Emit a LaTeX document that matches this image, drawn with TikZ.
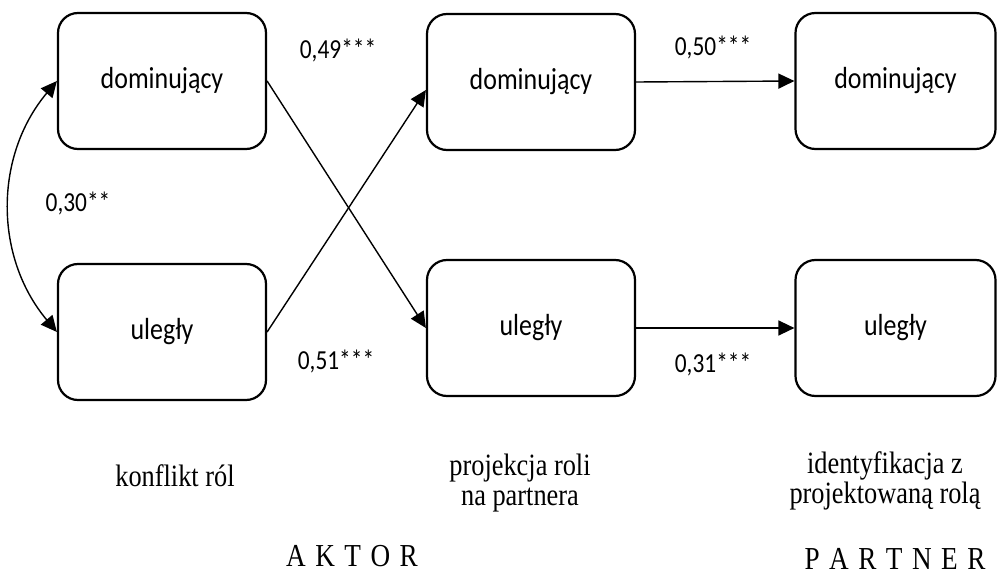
\documentclass[tikz,border=0pt]{standalone}
\usepackage{fontspec}
\setmainfont{Liberation Serif}[FakeStretch=0.85]
\newfontfamily\calibri{Carlito}[FakeStretch=0.85]
\usetikzlibrary{arrows.meta}

\begin{document}
\begin{tikzpicture}[x=1pt, y=-1pt,
    rola/.style={draw, line width=2.2pt, rounded corners=20pt,
      minimum width=208pt, minimum height=136pt,
      font=\calibri\fontsize{30.5}{36}\selectfont},
    wsp/.style={font=\calibri\fontsize{27.5}{33}\selectfont},
    opis/.style={align=center, font=\fontsize{31}{30}\selectfont},
    naglowek/.style={inner sep=0pt, font={\fontsize{32}{38}\selectfont\spaceskip=9.5pt\relax}},
    grot/.tip={Triangle[length=16pt, width=15pt]},
    sciezka/.style={line width=1.4pt, -grot}]
  \useasboundingbox (0,0) rectangle (997,575);
  \node[rola] (aktorDom) at (162,81) {dominujący};
  \node[rola] (aktorUl) at (162,332) {uległy};
  \node[rola] (projDom) at (531,82) {dominujący};
  \node[rola] (projUl) at (531,328) {uległy};
  \node[rola, minimum width=200pt] (partDom) at (895.5,81) {dominujący};
  \node[rola, minimum width=200pt] (partUl) at (895.5,328) {uległy};
  \draw[sciezka] (aktorDom.east) -- (projUl.west);
  \draw[sciezka] (aktorUl.east) -- ([yshift=-8pt]projDom.west);
  \draw[sciezka] (projDom.east) -- (partDom.west);
  \draw[sciezka] (projUl.east) -- (partUl.west);
  \draw[sciezka, grot-grot] (aktorDom.west) to[out=230, in=130] (aktorUl.west);
  \node[wsp] (w49) at (338,50) {0,49***};
  \node[wsp] (w51) at (336,361) {0,51***};
  \node[wsp] (w50) at (713,47) {0,50***};
  \node[wsp] (w31) at (713,364) {0,31***};
  \node[wsp] (w30) at (78,203) {0,30**};
  \node[opis, anchor=base] (konflikt) at (175,486) {konflikt ról};
  \node[opis, anchor=base] (projekcja) at (520,505) {projekcja roli\\na partnera};
  \node[opis, anchor=base] (identyf) at (885,503) {identyfikacja z\\projektowaną rolą};
  \node[naglowek, anchor=base] (aktor) at (352,566) {A K T O R};
  \node[naglowek, anchor=base] (partner) at (895,569) {P A R T N E R};
\end{tikzpicture}
\end{document}
